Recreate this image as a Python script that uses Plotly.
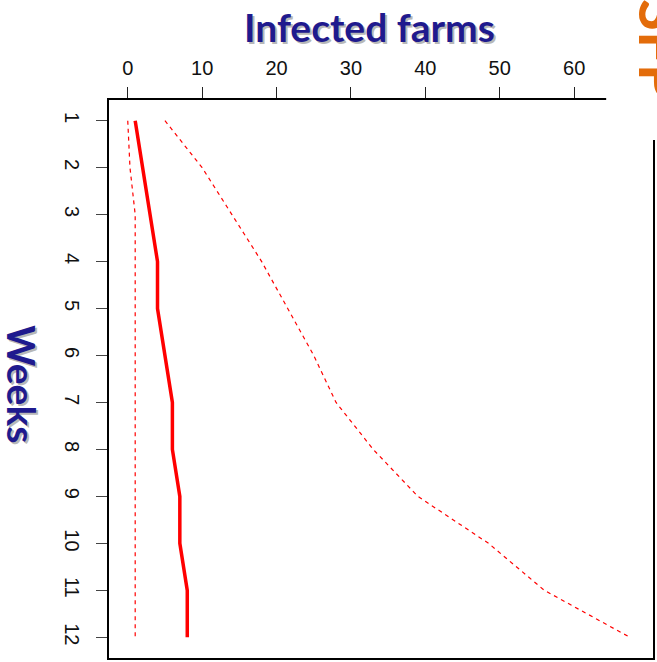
import plotly.graph_objects as go

weeks = [1, 2, 3, 4, 5, 6, 7, 8, 9, 10, 11, 12]
median_farms = [1, 2, 3, 4, 4, 5, 6, 6, 7, 7, 8, 8]
lower_farms = [0, 0.3, 1, 1, 1, 1, 1, 1, 1, 1, 1, 1]
upper_farms = [5, 10, 14, 18, 21.5, 25, 28, 33, 39, 48.5, 56, 67.5]
x_ticks = [0, 10, 20, 30, 40, 50, 60]

W, H = 657, 662
L, R, T, B = 109, 2, 100, 3
pw, ph = W - L - R, H - T - B

def px(x):
    return (x - L) / pw

def py(y):
    return 1 - (y - T) / ph

fig = go.Figure()
fig.add_trace(go.Scatter(x=lower_farms, y=weeks, mode="lines",
                         line=dict(color="#ff0000", width=1.2, dash="4px,4px")))
fig.add_trace(go.Scatter(x=upper_farms, y=weeks, mode="lines",
                         line=dict(color="#ff0000", width=1.2, dash="4px,4px")))
fig.add_trace(go.Scatter(x=median_farms, y=weeks, mode="lines",
                         line=dict(color="#ff0000", width=3.5)))

fig.update_layout(
    width=W, height=H,
    margin=dict(l=L, r=R, t=T, b=B),
    paper_bgcolor="white", plot_bgcolor="white",
    showlegend=False,
    xaxis=dict(side="top", range=[-2.52, 70.6], tickvals=x_ticks,
               ticks="outside", ticklen=11, tickwidth=1.3, tickcolor="#222",
               showgrid=False, zeroline=False,
               showline=True, linecolor="black", linewidth=2, mirror=True,
               tickfont=dict(family="Liberation Sans, Arial", size=20, color="#111"),
               ticklabelstandoff=4),
    yaxis=dict(range=[12.44, 0.56], tickvals=weeks,
               ticks="outside", ticklen=11, tickwidth=1.3, tickcolor="#444",
               tickangle=90,
               showgrid=False, zeroline=False,
               showline=True, linecolor="black", linewidth=2, mirror=True,
               tickfont=dict(family="Liberation Sans, Arial", size=20, color="#111"),
               ticklabelstandoff=7),
)

# white box covering the top-right corner (overlapping slide element)
fig.add_shape(type="rect", xref="paper", yref="paper",
              x0=px(608), x1=px(660), y0=py(140), y1=py(-5),
              fillcolor="white", line=dict(width=0), layer="above")

title_font = "Lato, Open Sans, sans-serif"
common = dict(xref="paper", yref="paper", showarrow=False,
              xanchor="center", yanchor="middle")
# shadows then text
fig.add_annotation(text="<b>Infected farms</b>", x=px(372), y=py(29), **common,
                   font=dict(family=title_font, size=39, color="#b8b8b8"))
fig.add_annotation(text="<b>Infected farms</b>", x=px(370), y=py(27), **common,
                   font=dict(family=title_font, size=39, color="#1f1a8e"))
fig.add_annotation(text="<b>Weeks</b>", x=px(23), y=py(387), textangle=90, **common,
                   font=dict(family=title_font, size=39, color="#b8b8b8"))
fig.add_annotation(text="<b>Weeks</b>", x=px(21), y=py(385), textangle=90, **common,
                   font=dict(family=title_font, size=39, color="#1f1a8e"))

fig.add_annotation(text="<b>SFP</b>", x=px(664), y=py(50), textangle=90, **common,
                   font=dict(family=title_font, size=58, color="#e36c0a"))

fig.write_html("out.html", config={"displayModeBar": False},
               post_script="document.body.style.margin='0';")
